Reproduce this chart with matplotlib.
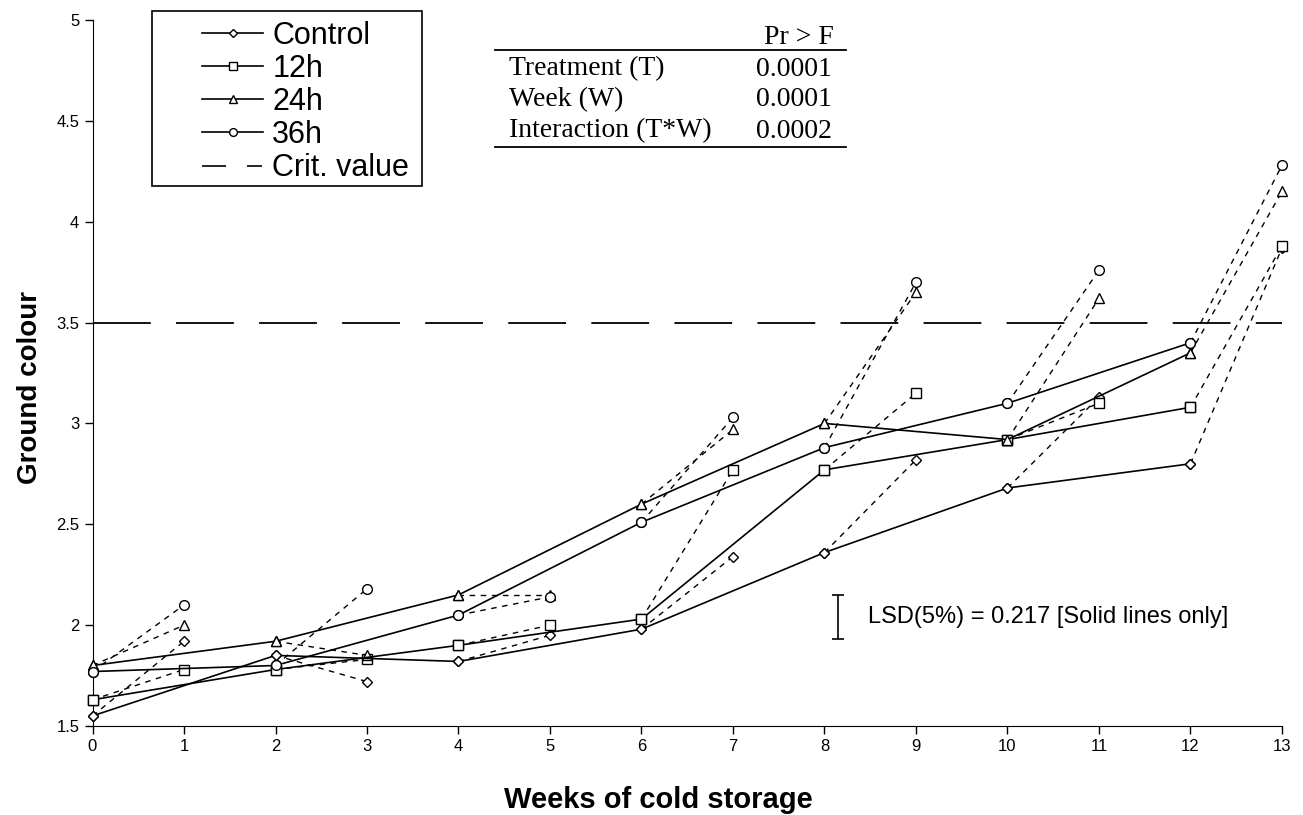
import matplotlib
matplotlib.use('Agg')
import matplotlib.pyplot as plt
from matplotlib.lines import Line2D
from matplotlib.patches import Rectangle
from matplotlib.ticker import FormatStrFormatter

plt.rcParams['font.family'] = ['Liberation Sans', 'DejaVu Sans']

# ground colour at removal (even weeks) and after shelf life (odd weeks)
weeks_even = [0, 2, 4, 6, 8, 10, 12]
weeks_odd = [1, 3, 5, 7, 9, 11, 13]

control_even = [1.55, 1.85, 1.82, 1.98, 2.36, 2.68, 2.80]
control_odd = [1.92, 1.72, 1.95, 2.34, 2.82, 3.13, 3.87]
h12_even = [1.63, 1.78, 1.90, 2.03, 2.77, 2.92, 3.08]
h12_odd = [1.78, 1.83, 2.00, 2.77, 3.15, 3.10, 3.88]
h24_even = [1.80, 1.92, 2.15, 2.60, 3.00, 2.92, 3.35]
h24_odd = [2.00, 1.85, 2.15, 2.97, 3.65, 3.62, 4.15]
h36_even = [1.77, 1.80, 2.05, 2.51, 2.88, 3.10, 3.40]
h36_odd = [2.10, 2.18, 2.14, 3.03, 3.70, 3.76, 4.28]

crit_value = 3.5
lsd = 0.217

anova_terms = ['Treatment (T)', 'Week (W)', 'Interaction (T*W)']
anova_p = ['0.0001', '0.0001', '0.0002']

series = [
    ('Control', 'D', control_even, control_odd, 5.5),
    ('12h', 's', h12_even, h12_odd, 6.5),
    ('24h', '^', h24_even, h24_odd, 7),
    ('36h', 'o', h36_even, h36_odd, 7),
]

W, H = 1303, 815
fig = plt.figure(figsize=(W / 100, H / 100), dpi=100)
ax = fig.add_axes([92.5 / W, 1 - 726 / H, (1282 - 92.5) / W, (726 - 20) / H])


def px(x, y):
    return x / W, 1 - y / H


handles = []
for name, mk, ev, od, ms in series:
    style = dict(marker=mk, markersize=ms, markerfacecolor='white',
                 markeredgecolor='black', markeredgewidth=1.0, color='black',
                 clip_on=False)
    for i in range(len(ev)):
        ax.plot([weeks_even[i], weeks_odd[i]], [ev[i], od[i]], lw=1.0,
                dashes=(4, 4), zorder=2, **style)
    ax.plot(weeks_even, ev, lw=1.2, zorder=3, **style)
    handles.append(Line2D([], [], color='black', lw=1.2, marker=mk,
                          markersize=ms * 0.8, markerfacecolor='white',
                          markeredgecolor='black', label=name))

ax.axhline(crit_value, color='black', lw=1.3, dashes=(32, 14), zorder=1)
handles.append(Line2D([], [], color='black', lw=1.2,
                      dashes=(14.4, 12.6, 9, 20), label='Crit. value'))

# LSD bar
ax.errorbar([8.15], [2.04], yerr=[lsd / 2], fmt='none', ecolor='black',
            elinewidth=1.2, capsize=4, capthick=1.2)
ax.text(8.47, 2.04, f'LSD(5%) = {lsd} [Solid lines only]', fontsize=17,
        va='center', ha='left')

ax.set_xlim(0, 13)
ax.set_ylim(1.5, 5)
ax.set_xticks(range(0, 14))
ax.set_yticks([1.5, 2, 2.5, 3, 3.5, 4, 4.5, 5])
ax.yaxis.set_major_formatter(FormatStrFormatter('%g'))
ax.spines['top'].set_visible(False)
ax.spines['right'].set_visible(False)
ax.tick_params(direction='out', length=6, width=1, labelsize=12)
ax.set_xlabel('Weeks of cold storage', fontsize=21, fontweight='bold', va='center')
ax.set_ylabel('Ground colour', fontsize=20, fontweight='bold', va='center')
ax.xaxis.set_label_coords((658 - 92.5) / 1189.5, -(800 - 726) / 706)
ax.yaxis.set_label_coords(-(92.5 - 30) / 1189.5, (726 - 387) / 706)

# legend box
fig.add_artist(Rectangle(px(151.5, 186), (422 - 151.5) / W, (186 - 11) / H,
                         transform=fig.transFigure, fill=True, facecolor='white',
                         edgecolor='black', lw=1.2, zorder=4))
leg = fig.legend(handles=handles, loc='upper left', bbox_to_anchor=px(202, 21),
                 bbox_transform=fig.transFigure, borderaxespad=0, borderpad=0,
                 fontsize=22, handlelength=2.0, handletextpad=0.3,
                 labelspacing=0.1, frameon=False)
leg.set_zorder(5)

# ANOVA table
serif = ['Liberation Serif', 'DejaVu Serif']
fig.text(*px(834, 37), 'Pr > F', family=serif, fontsize=20, ha='right', va='center')
for y in (50, 147):
    fig.add_artist(Line2D([495 / W, 846 / W], [1 - y / H, 1 - y / H],
                          color='black', lw=1.3))
for j, (term, p) in enumerate(zip(anova_terms, anova_p)):
    y = 69 + j * 31
    fig.text(*px(509, y), term, family=serif, fontsize=20, ha='left', va='center')
    fig.text(*px(756, y), p, family=serif, fontsize=20, ha='left', va='center')

fig.savefig('out.png', dpi=100, facecolor='white')
